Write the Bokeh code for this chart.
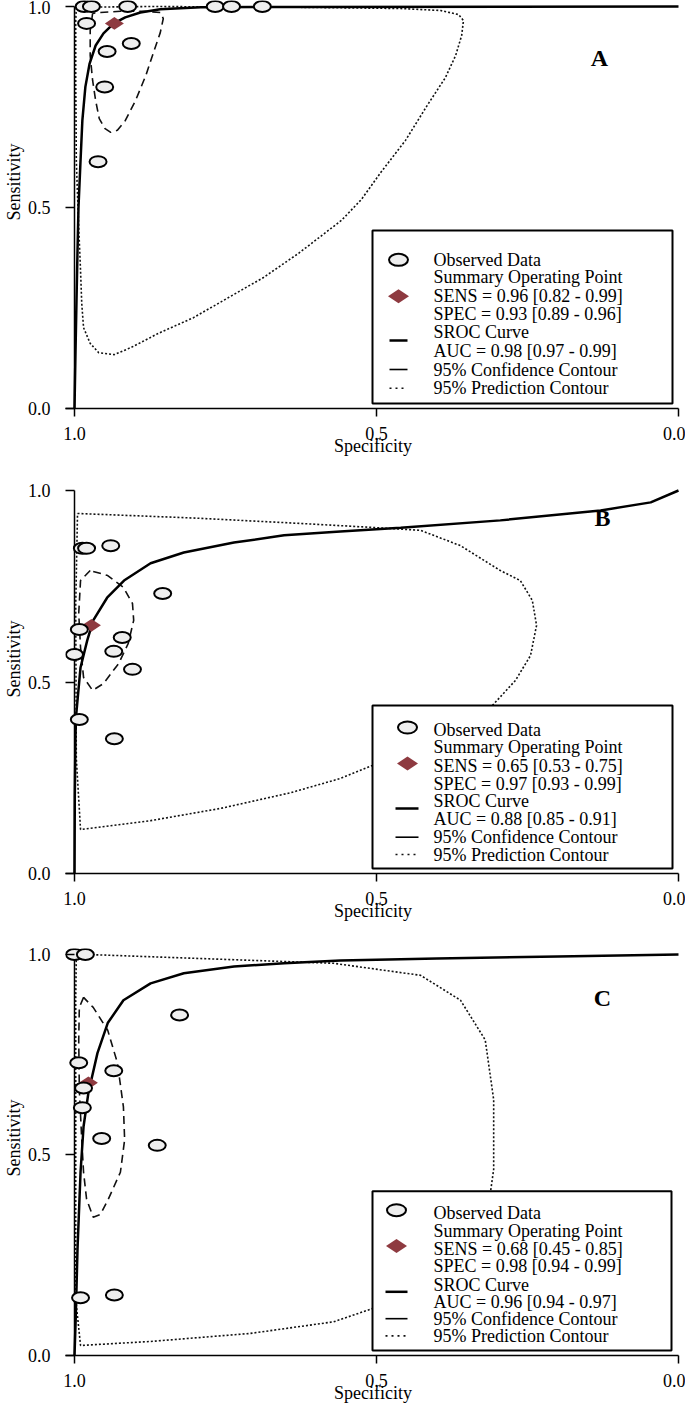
import math
from bokeh.plotting import figure
from bokeh.models import Range1d, LinearAxis, FixedTicker, PrintfTickFormatter, Label, BoxAnnotation, Title
from bokeh.layouts import column
from bokeh.embed import file_html
from bokeh.resources import INLINE

# ---------------- data (specificity, sensitivity) ----------------
panel_names = ["A", "B", "C"]

A_obs_spec = [0.984, 0.972, 0.912, 0.767, 0.740, 0.689, 0.980, 0.906, 0.946, 0.950, 0.961]
A_obs_sens = [1.000, 1.000, 1.000, 1.000, 1.000, 1.000, 0.958, 0.908, 0.888, 0.800, 0.614]
A_sum_spec = [0.934]
A_sum_sens = [0.958]
A_sroc_spec = [1.0, 0.9983, 0.9967, 0.995, 0.9934, 0.990, 0.987, 0.982, 0.975, 0.965, 0.952, 0.935, 0.916, 0.891, 0.858, 0.791, 0.626, 0.0]
A_sroc_sens = [0.0, 0.144, 0.269, 0.393, 0.500, 0.617, 0.716, 0.800, 0.858, 0.903, 0.933, 0.958, 0.973, 0.985, 0.993, 0.998, 0.999, 1.0]
A_conf_spec = [0.970, 0.974, 0.974, 0.970, 0.965, 0.959, 0.950, 0.940, 0.929, 0.916, 0.899, 0.882, 0.868, 0.858, 0.853, 0.858, 0.882, 0.924, 0.957, 0.970]
A_conf_sens = [0.983, 0.940, 0.878, 0.816, 0.766, 0.721, 0.697, 0.687, 0.692, 0.716, 0.766, 0.828, 0.891, 0.935, 0.970, 0.985, 0.988, 0.988, 0.985, 0.983]
A_pred_spec = [0.997, 0.874, 0.626, 0.460, 0.394, 0.364, 0.356, 0.359, 0.369, 0.386, 0.416, 0.452, 0.493, 0.525, 0.558, 0.629, 0.687, 0.745, 0.803, 0.861, 0.906, 0.934, 0.960, 0.974, 0.985, 0.988, 0.990, 0.993, 0.997, 0.998, 0.998, 0.997]
A_pred_sens = [0.998, 1.000, 0.998, 0.995, 0.990, 0.980, 0.965, 0.928, 0.878, 0.823, 0.754, 0.667, 0.587, 0.520, 0.468, 0.386, 0.326, 0.276, 0.226, 0.187, 0.152, 0.134, 0.139, 0.162, 0.201, 0.261, 0.343, 0.450, 0.617, 0.816, 0.965, 0.998]
A_legend = ["Observed Data", "Summary Operating Point", "SENS = 0.96 [0.82 - 0.99]", "SPEC = 0.93 [0.89 - 0.96]",
            "SROC Curve", "AUC = 0.98 [0.97 - 0.99]", "95% Confidence Contour", "95% Prediction Contour"]

B_obs_spec = [0.987, 0.980, 0.940, 0.854, 0.992, 1.000, 0.921, 0.935, 0.904, 0.992, 0.934]
B_obs_sens = [0.849, 0.849, 0.856, 0.731, 0.637, 0.572, 0.616, 0.580, 0.533, 0.402, 0.352]
B_sum_spec = [0.972]
B_sum_sens = [0.648]
B_sroc_spec = [1.0, 0.9995, 0.9983, 0.997, 0.990, 0.979, 0.969, 0.946, 0.918, 0.874, 0.819, 0.736, 0.653, 0.560, 0.460, 0.295, 0.129, 0.046, 0.0]
B_sroc_sens = [0.0, 0.200, 0.366, 0.418, 0.538, 0.608, 0.661, 0.720, 0.765, 0.810, 0.838, 0.864, 0.883, 0.893, 0.903, 0.922, 0.948, 0.969, 1.0]
B_conf_spec = [0.974, 0.990, 0.993, 0.990, 0.985, 0.970, 0.952, 0.927, 0.911, 0.902, 0.904, 0.919, 0.945, 0.974]
B_conf_sens = [0.791, 0.765, 0.679, 0.590, 0.512, 0.478, 0.496, 0.548, 0.601, 0.661, 0.705, 0.747, 0.778, 0.791]
B_pred_spec = [0.995, 0.800, 0.626, 0.500, 0.427, 0.361, 0.295, 0.262, 0.242, 0.235, 0.245, 0.270, 0.308, 0.361, 0.427, 0.507, 0.560, 0.642, 0.758, 0.874, 0.990, 0.997, 0.998, 0.995]
B_pred_sens = [0.940, 0.928, 0.914, 0.903, 0.896, 0.856, 0.791, 0.765, 0.713, 0.648, 0.569, 0.504, 0.439, 0.386, 0.334, 0.282, 0.248, 0.211, 0.170, 0.138, 0.115, 0.300, 0.700, 0.940]
B_legend = ["Observed Data", "Summary Operating Point", "SENS = 0.65 [0.53 - 0.75]", "SPEC = 0.97 [0.93 - 0.99]",
            "SROC Curve", "AUC = 0.88 [0.85 - 0.91]", "95% Confidence Contour", "95% Prediction Contour"]

C_obs_spec = [1.000, 0.982, 0.826, 0.993, 0.935, 0.985, 0.987, 0.955, 0.863, 0.990, 0.934]
C_obs_sens = [1.000, 1.000, 0.849, 0.730, 0.710, 0.667, 0.618, 0.541, 0.524, 0.144, 0.151]
C_sum_spec = [0.977]
C_sum_sens = [0.680]
C_sroc_spec = [1.0, 0.998, 0.995, 0.990, 0.985, 0.977, 0.962, 0.945, 0.919, 0.874, 0.819, 0.736, 0.653, 0.560, 0.400, 0.200, 0.0]
C_sroc_sens = [0.0, 0.092, 0.266, 0.457, 0.571, 0.655, 0.754, 0.829, 0.886, 0.928, 0.953, 0.970, 0.978, 0.985, 0.990, 0.995, 1.0]
C_conf_spec = [0.985, 0.992, 0.993, 0.992, 0.988, 0.985, 0.980, 0.969, 0.957, 0.944, 0.924, 0.917, 0.919, 0.929, 0.945, 0.969, 0.985]
C_conf_sens = [0.893, 0.868, 0.787, 0.663, 0.538, 0.457, 0.390, 0.345, 0.352, 0.390, 0.457, 0.538, 0.620, 0.730, 0.811, 0.868, 0.893]
C_pred_spec = [0.997, 0.960, 0.571, 0.427, 0.361, 0.320, 0.306, 0.306, 0.320, 0.361, 0.460, 0.571, 0.709, 0.874, 0.990, 0.998, 0.998, 0.997]
C_pred_sens = [1.000, 0.999, 0.978, 0.948, 0.886, 0.787, 0.638, 0.464, 0.315, 0.216, 0.141, 0.084, 0.055, 0.035, 0.025, 0.141, 0.886, 1.000]
C_legend = ["Observed Data", "Summary Operating Point", "SENS = 0.68 [0.45 - 0.85]", "SPEC = 0.98 [0.94 - 0.99]",
            "SROC Curve", "AUC = 0.96 [0.94 - 0.97]", "95% Confidence Contour", "95% Prediction Contour"]

tick_values = [0.0, 0.5, 1.0]
x_title = "Specificity"
y_title = "Sensitivity"

# ---------------- layout / style ----------------
FONT = "Liberation Serif"
W = 685
BORDER_L = 65
BORDER_R = 5
PX_X = 604.0       # px per unit on x
PAD_L = 9.0        # px between frame left edge and spec = 1
PAD_R = 2.0        # px between spec = 0 and frame right edge
GREY = "#eeeeee"
RED = "#8e3a40"

layout = {
    "A": dict(sy=402.0, mbt=0, mbb=62, pad_t=6.0, ytitle_off=143,
              letter=(0.131, 0.871),
              box=(306, 6, 178, 5), rows=[148.7, 131.3, 112.3, 94.7, 76.3, 58.0, 39.0, 20.3],
              sym_x=280, line_x=(289, 271), ell_y=148.7, dia_y=112.3, sroc_y=68.0),
    "B": dict(sy=383.0, mbt=14, mbb=62, pad_t=6.0, ytitle_off=136,
              letter=(0.126, 0.927),
              box=(306, 6, 168, 5), rows=[143.7, 126.3, 108.0, 89.7, 73.0, 54.7, 36.3, 19.0],
              sym_x=271, line_x=(283, 260), ell_y=146.0, dia_y=110.0, sroc_y=65.0),
    "C": dict(sy=403.0, mbt=13, mbb=48, pad_t=6.0, ytitle_off=151,
              letter=(0.126, 0.891),
              box=(306, 7, 165, 5), rows=[142.7, 125.3, 107.0, 89.7, 71.0, 53.7, 37.0, 19.7],
              sym_x=282, line_x=(293, 271), ell_y=146.0, dia_y=110.0, sroc_y=64.0),
}

data = {
    "A": (A_obs_spec, A_obs_sens, A_sum_spec, A_sum_sens, A_sroc_spec, A_sroc_sens,
          A_conf_spec, A_conf_sens, A_pred_spec, A_pred_sens, A_legend),
    "B": (B_obs_spec, B_obs_sens, B_sum_spec, B_sum_sens, B_sroc_spec, B_sroc_sens,
          B_conf_spec, B_conf_sens, B_pred_spec, B_pred_sens, B_legend),
    "C": (C_obs_spec, C_obs_sens, C_sum_spec, C_sum_sens, C_sroc_spec, C_sroc_sens,
          C_conf_spec, C_conf_sens, C_pred_spec, C_pred_sens, C_legend),
}


def style_axis(ax):
    ax.formatter = PrintfTickFormatter(format="%.1f")
    ax.major_tick_line_width = 1.5
    ax.major_tick_line_color = "black"
    ax.minor_tick_in = 0
    ax.minor_tick_out = 0
    ax.major_label_text_font = FONT
    ax.major_label_text_font_size = "18px"
    ax.major_label_text_color = "black"
    ax.axis_label_text_font = FONT
    ax.axis_label_text_font_size = "18px"
    ax.axis_label_text_font_style = "normal"
    ax.axis_label_text_color = "black"


def build(name):
    L = layout[name]
    (obs_x, obs_y, sum_x, sum_y, sroc_x, sroc_y, conf_x, conf_y,
     pred_x, pred_y, legend_lines) = data[name]
    sy = L["sy"]
    frame_h = sy + L["pad_t"]
    height = int(round(L["mbt"] + frame_h + L["mbb"]))
    p = figure(width=W, height=height, output_backend="svg", toolbar_location=None,
               title=None,
               x_range=Range1d(1 + PAD_L / PX_X, -PAD_R / PX_X),
               y_range=Range1d(0.0, 1 + L["pad_t"] / sy),
               x_axis_location=None, y_axis_location=None,
               min_border_left=BORDER_L, min_border_right=BORDER_R,
               min_border_top=L["mbt"], min_border_bottom=L["mbb"])
    p.outline_line_color = None
    p.background_fill_color = "white"
    p.border_fill_color = "white"
    p.xgrid.visible = False
    p.ygrid.visible = False

    xa = LinearAxis(axis_label=x_title, ticker=FixedTicker(ticks=tick_values))
    style_axis(xa)
    xa.bounds = (0.0, 1 + PAD_L / PX_X)
    xa.axis_line_width = 1.5
    xa.axis_line_color = "black"
    xa.major_tick_in = 0
    xa.major_tick_out = 8
    xa.major_label_standoff = 10
    xa.axis_label_standoff = -7
    p.add_layout(xa, "below")

    # y axis: ticks + tick labels
    ya = LinearAxis(axis_label=None, ticker=FixedTicker(ticks=tick_values))
    style_axis(ya)
    ya.bounds = (0.0, 1.0)
    ya.axis_line_color = None
    ya.major_tick_in = int(PAD_L)
    ya.major_tick_out = 0
    ya.major_label_standoff = 15
    p.add_layout(ya, "left")
    # y axis title, its upper end placed a fixed distance below the top
    p.add_layout(Title(text=y_title, align="right", offset=L["ytitle_off"], standoff=2,
                       text_font=FONT, text_font_size="18px", text_font_style="normal",
                       text_color="black"), "left")

    # y axis rule at specificity = 1
    p.line([1.0, 1.0], [0.0, 1.0], line_color="black", line_width=1.5)

    # curves
    p.line(pred_x, pred_y, line_color="#111111", line_width=1.6, line_dash="2 2")
    p.line(conf_x, conf_y, line_color="#111111", line_width=1.6, line_dash="8 5")
    p.line(sroc_x, sroc_y, line_color="black", line_width=2.5)
    # summary point
    p.scatter(sum_x, sum_y, marker="diamond", size=19, angle=math.pi / 2,
              fill_color=RED, line_color=None)
    # observed data
    p.ellipse(obs_x, obs_y, width=17, height=11, width_units="screen", height_units="screen",
              fill_color=GREY, line_color="black", line_width=2)

    # panel letter
    lx, ly = L["letter"]
    p.add_layout(Label(x=lx, y=ly, text=name, text_font=FONT, text_font_size="24px",
                       text_font_style="bold", text_align="center", text_baseline="middle",
                       text_color="black"))

    # legend (positions in px: from right end of x axis, above x axis)
    def dx(px):
        return px / PX_X

    def dy(px):
        return px / sy

    bl, br, bt, bb = L["box"]
    p.add_layout(BoxAnnotation(left=dx(bl), right=dx(br), top=dy(bt), bottom=dy(bb),
                               fill_color="white", fill_alpha=1.0,
                               line_color="black", line_alpha=1.0, line_width=2,
                               level="annotation"))
    for txt, r in zip(legend_lines, L["rows"]):
        p.add_layout(Label(x=dx(245), y=dy(r), text=txt, text_font=FONT, text_font_size="18px",
                           text_align="left", text_baseline="middle", text_color="black"))
    x1, x2 = L["line_x"]
    p.ellipse([dx(L["sym_x"])], [dy(L["ell_y"])], width=19, height=12, width_units="screen",
              height_units="screen", fill_color=GREY, line_color="black", line_width=2,
              level="overlay")
    p.scatter([dx(L["sym_x"])], [dy(L["dia_y"])], marker="diamond", size=21, angle=math.pi / 2,
              fill_color=RED, line_color=None, level="overlay")
    p.line([dx(x1), dx(x2)], [dy(L["sroc_y"])] * 2, line_color="black", line_width=2.5, level="overlay")
    p.line([dx(x1), dx(x2)], [dy(L["rows"][6])] * 2, line_color="black", line_width=1.6, level="overlay")
    p.line([dx(x1), dx(x2)], [dy(L["rows"][7])] * 2, line_color="#111111", line_width=1.6,
           line_dash="2 4", level="overlay")
    return p


figs = [build(n) for n in panel_names]
page = column(*figs, spacing=0)
open("out.html", "w").write(file_html(page, INLINE))
